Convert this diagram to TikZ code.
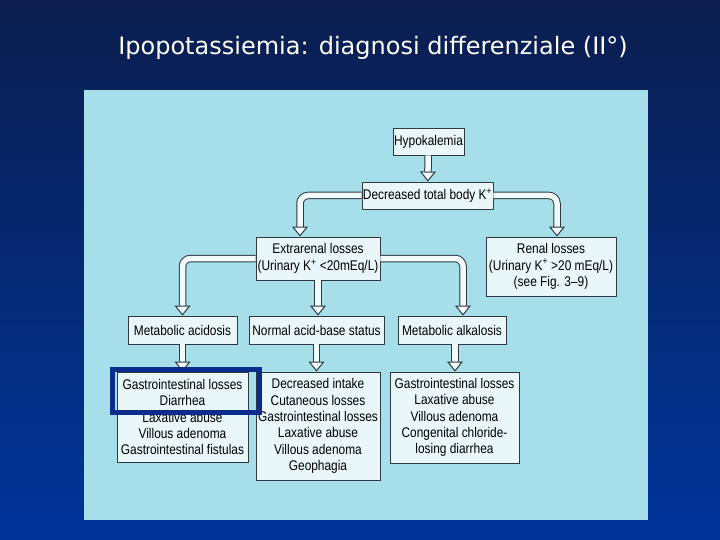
\documentclass[tikz,border=0pt]{standalone}
\usepackage{fontspec}
\usetikzlibrary{arrows.meta}
\setmainfont{DejaVu Sans}
\newfontfamily\diafont[FakeStretch=0.85, Ligatures=TeX]{Liberation Sans}
\definecolor{slidetop}{HTML}{0B1E4E}
\definecolor{slidebottom}{HTML}{00349A}
\definecolor{panel}{HTML}{A6DEE9}
\definecolor{boxfill}{HTML}{E9F6FA}
\definecolor{edge}{HTML}{2E3A40}
\definecolor{shaft}{HTML}{F2FAFC}
\definecolor{hilite}{HTML}{0A2C8C}
\tikzset{
  box/.style={
    rectangle, inner sep=1pt,
    text centered, align=center, draw=edge, line width=0.9pt,
    fill=boxfill, font=\diafont\fontsize{14}{16.3}\selectfont,
  },
  arrow/.style={
    draw=edge, line width=1pt, double=shaft, double distance=5.5pt,
    rounded corners=8pt,
    -{Triangle[width=16pt, length=10pt, fill=shaft, line width=1pt]},
  },
  mark box/.style={draw=hilite, line width=5pt},
}
\begin{document}
\begin{tikzpicture}[x=1pt, y=-1pt]

  % slide background and panel
  \shade[top color=slidetop, bottom color=slidebottom] (0,0) rectangle (720,540);
  \useasboundingbox (0,0) rectangle (720,540);
  \fill[panel] (84,90) rectangle (648,520);
  \node[text=white, font=\fontsize{24}{28}\selectfont] (title) at (373,48)
    {Ipopotassiemia: diagnosi differenziale (II°)};

  \node[box, minimum width=71pt, minimum height=27pt] (hypo) at (428.5,141.5) {Hypokalemia};
  \node[box, minimum width=129pt, minimum height=27pt] (decr) at (427.5,195.5) {Decreased total body K\textsuperscript{+}};
  \node[box, minimum width=124pt, minimum height=43pt] (extra) at (318,258.5)
    {Extrarenal losses\\(Urinary K\textsuperscript{+} <20mEq/L)};
  \node[box, minimum width=130pt, minimum height=59pt] (renal) at (551,266.5)
    {Renal losses\\(Urinary K\textsuperscript{+} >20 mEq/L)\\(see Fig. 3–9)};
  \node[box, minimum width=109pt, minimum height=28pt] (acid) at (182.5,330) {Metabolic acidosis};
  \node[box, minimum width=135pt, minimum height=28pt] (normal) at (316.5,330) {Normal acid-base status};
  \node[box, minimum width=108pt, minimum height=28pt] (alkal) at (452,330) {Metabolic alkalosis};
  \node[box, minimum width=131pt, minimum height=90pt] (causeA) at (182.5,417)
    {Gastrointestinal losses\\Diarrhea\\Laxative abuse\\Villous adenoma\\Gastrointestinal fistulas};
  \node[box, minimum width=124pt, minimum height=108pt] (causeN) at (318,426)
    {Decreased intake\\Cutaneous losses\\Gastrointestinal losses\\Laxative abuse\\Villous adenoma\\Geophagia};
  \node[box, minimum width=129pt, minimum height=91pt] (causeB) at (454.5,417.5)
    {Gastrointestinal losses\\Laxative abuse\\Villous adenoma\\Congenital chloride-\\losing diarrhea};

  \draw[arrow] (hypo) -- (decr);
  \draw[arrow] (decr.west) -| ([xshift=-18pt]extra.north);
  \draw[arrow] (decr.east) -| ([xshift=6pt]renal.north);
  \draw[arrow] (extra.west) -| (acid.north);
  \draw[arrow] (extra.south) -- (extra.south |- normal.north);
  \draw[arrow] (extra.east) -| ([xshift=11pt]alkal.north);
  \draw[arrow] (acid) -- (causeA);
  \draw[arrow] (normal.south) -- (normal.south |- causeN.north);
  \draw[arrow] ([xshift=3pt]alkal.south) -- ([xshift=3pt]alkal.south |- causeB.north);

  % highlighted entry
  \draw[mark box] (112,369) rectangle (259,412);

\end{tikzpicture}
\end{document}
